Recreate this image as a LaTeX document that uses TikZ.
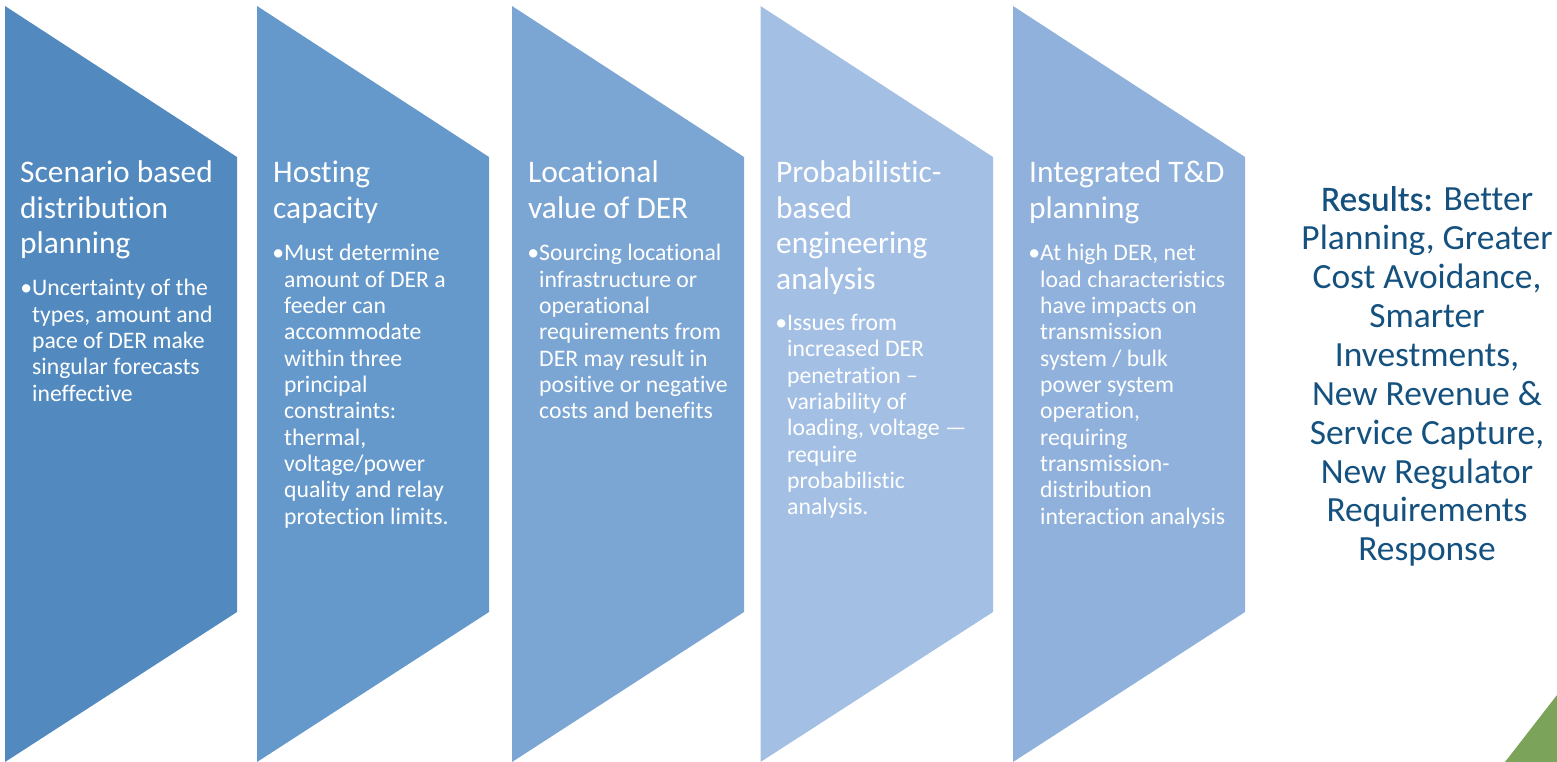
\documentclass[tikz,border=0pt]{standalone}
\usepackage{fontspec}
\setmainfont[Ligatures=NoCommon]{Carlito}
\newfontfamily\fakebold[Ligatures=NoCommon,FakeBold=0.5]{Carlito}
\definecolor{chevA}{HTML}{528AC0}
\definecolor{chevB}{HTML}{6699CB}
\definecolor{chevC}{HTML}{7BA5D3}
\definecolor{chevD}{HTML}{A4BFE4}
\definecolor{chevE}{HTML}{8FB1DB}
\definecolor{resultblue}{HTML}{15517F}
\definecolor{leafgreen}{HTML}{7BA35A}
\begin{document}
\begin{tikzpicture}[x=1pt,y=-1pt,
    chev/.style={draw=none},
    head/.style={anchor=north west,inner sep=0pt,align=left,text=white,font=\fontsize{31.4}{35.6}\selectfont},
    body/.style={anchor=north west,inner sep=0pt,align=left,text=white,font=\fontsize{23.7}{26.35}\selectfont},
    result/.style={anchor=north,inner sep=0pt,align=center,text=resultblue,font=\fontsize{35.4}{38.9}\selectfont}]
            \useasboundingbox (0,0) rectangle (1557,762);

            \fill [chev,chevA] (5,6) -- (237,157) -- (237,612) -- (5,762) -- cycle;
            \fill [chev,chevB] (257,6) -- (489,157) -- (489,612) -- (257,762) -- cycle;
            \fill [chev,chevC] (512,6) -- (744,157) -- (744,612) -- (512,762) -- cycle;
            \fill [chev,chevD] (760.5,6) -- (993,157) -- (993,612) -- (760.5,762) -- cycle;
            \fill [chev,chevE] (1013,6) -- (1245,157) -- (1245,612) -- (1013,762) -- cycle;
            \fill [chev,leafgreen] (1505,762) -- (1557,695) -- (1557,762) -- cycle;

            \node [head] (h1) at (20,160.6) {Scenario based\\distribution\\planning};
            \node [head] (h2) at (273,160.6) {Hosting\\capacity};
            \node [head] (h3) at (528,160.6) {Locational\\value of DER};
            \node [head] (h4) at (776,160.6) {Probabilistic-\\based\\engineering\\analysis};
            \node [head] (h5) at (1029,160.6) {Integrated T\&D\\planning};

            \node [body] (b1) at (32,279) {\llap{•}Uncertainty of the\\types, amount and\\pace of DER make\\singular forecasts\\ineffective};
            \node [body] (b2) at (284,244) {\llap{•}Must determine\\amount of DER a\\feeder can\\accommodate\\within three\\principal\\constraints:\\thermal,\\voltage/power\\quality and relay\\protection limits.};
            \node [body] (b3) at (539,244) {\llap{•}Sourcing locational\\infrastructure or\\operational\\requirements from\\DER may result in\\positive or negative\\costs and benefits};
            \node [body] (b4) at (787,314) {\llap{•}Issues from\\increased DER\\penetration --\\variability of\\loading, voltage ---\\require\\probabilistic\\analysis.};
            \node [body] (b5) at (1040,244) {\llap{•}At high DER, net\\load characteristics\\have impacts on\\transmission\\system / bulk\\power system\\operation,\\requiring\\transmission-\\distribution\\interaction analysis};

            \node [result] (res) at (1427,186) {{\fakebold Results:} Better\\Planning, Greater\\Cost Avoidance,\\Smarter\\Investments,\\New Revenue \&\\Service Capture,\\New Regulator\\Requirements\\Response};
        \end{tikzpicture}
\end{document}
